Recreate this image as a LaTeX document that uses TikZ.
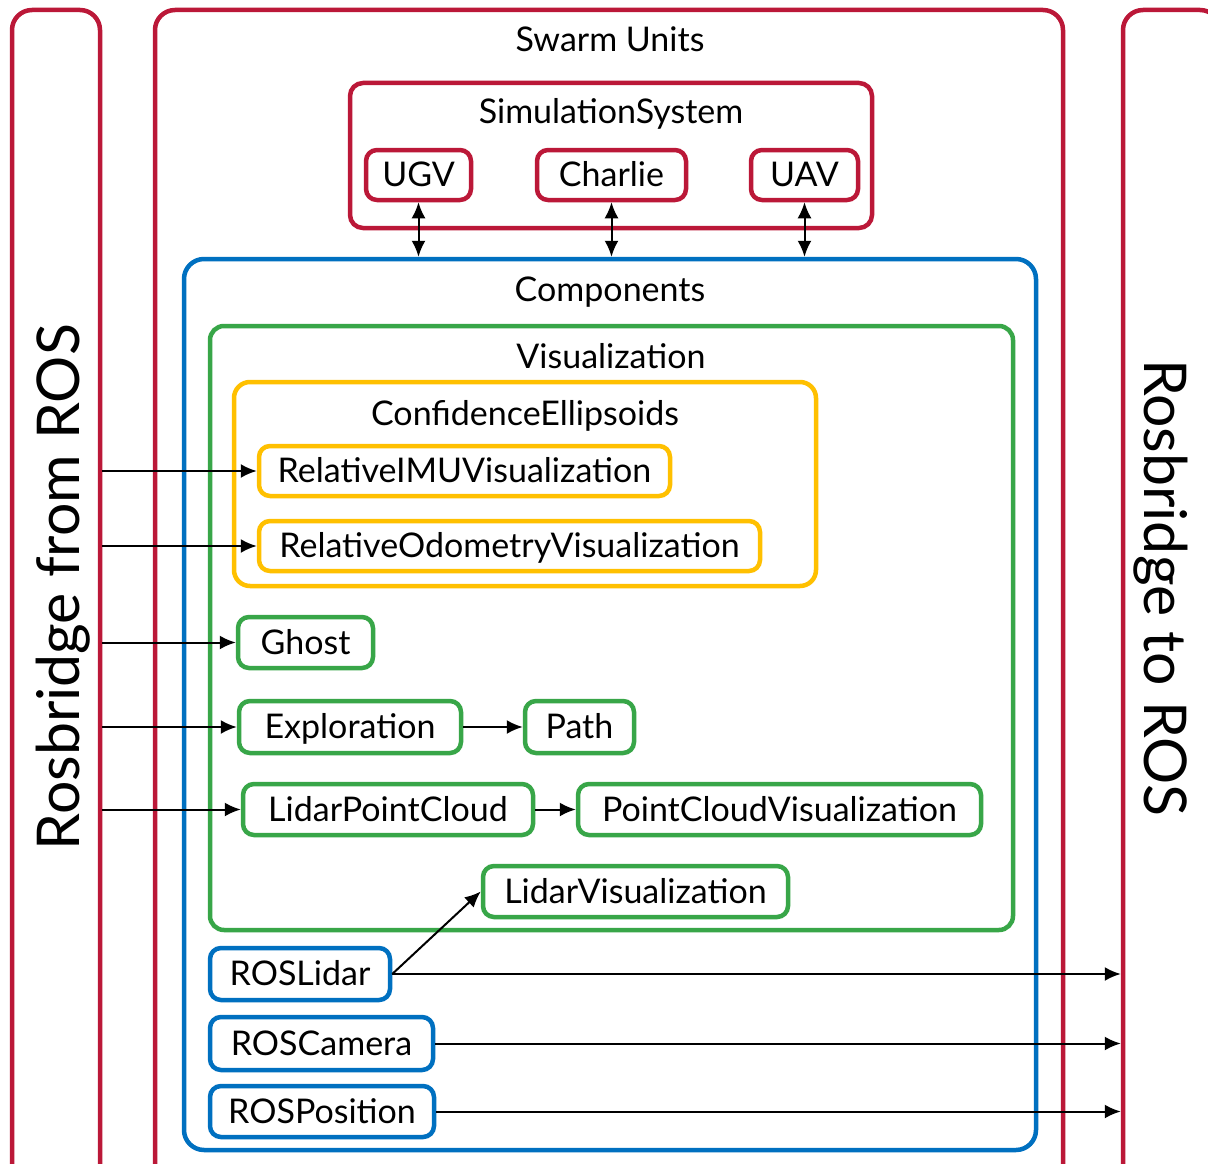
\documentclass[tikz,border=0pt]{standalone}
\usepackage{fontspec}
\setmainfont{Lato}
\usetikzlibrary{arrows.meta}
\definecolor{swred}{RGB}{187,24,56}
\definecolor{swblue}{RGB}{0,112,192}
\definecolor{swgreen}{RGB}{56,166,72}
\definecolor{swyellow}{RGB}{255,192,0}
\tikzset{
  x=1pt, y=-1pt,
  frame/.style={draw=#1, line width=4.5pt, rounded corners=20pt, inner sep=0pt},
  unit/.style={draw=#1, line width=4.5pt, rounded corners=11pt, inner sep=0pt,
    font=\fontsize{34}{38}\selectfont, text height=23pt, text depth=0pt},
  title/.style={anchor=base, font=\fontsize{34}{38}\selectfont, inner sep=0pt},
  side/.style={font=\fontsize{59}{68}\selectfont, text height=42pt, text depth=0pt, inner sep=0pt},
  flow/.style={line width=2pt, -{Latex[length=16pt,width=14pt]}},
  both/.style={line width=2pt, {Latex[length=16pt,width=14pt]}-{Latex[length=16pt,width=14pt]}},
}
\begin{document}
\begin{tikzpicture}
\clip (0,0) rectangle (1208,1164);
\fill[white] (0,0) rectangle (1208,1164);

% outer frames
\node[frame=swred, minimum width=88pt, minimum height=1175pt] (lbar) at (56,597.5) {};
\node[frame=swred, minimum width=908pt, minimum height=1175pt] (swarm) at (609,597.5) {};
\node[frame=swred, minimum width=97pt, minimum height=1175pt] (rbar) at (1171.5,597.5) {};
\node[side, rotate=90] (lfrom) at (58,587) {Rosbridge from ROS};
\node[side, rotate=-90] (rto) at (1165,588) {Rosbridge to ROS};
\node[title] (swarmt) at (610,52) {Swarm Units};

% simulation system
\node[frame=swred, rounded corners=13pt, minimum width=522pt, minimum height=145pt] (sim) at (611,155.5) {};
\node[title] (simt) at (611,124) {SimulationSystem};
\node[unit=swred, minimum width=105pt, minimum height=50pt] (ugv) at (418.5,175) {UGV};
\node[unit=swred, minimum width=149pt, minimum height=50pt] (charlie) at (611.5,175) {Charlie};
\node[unit=swred, minimum width=107pt, minimum height=50pt] (uav) at (804.5,175) {UAV};

% components
\node[frame=swblue, minimum width=852pt, minimum height=891pt] (comp) at (610,704.5) {};
\node[title] (compt) at (610,301) {Components};

% visualization
\node[frame=swgreen, rounded corners=14pt, minimum width=803pt, minimum height=604pt] (vis) at (611.5,628) {};
\node[title] (vist) at (611,368) {Visualization};

% confidence ellipsoids
\node[frame=swyellow, rounded corners=16pt, minimum width=582pt, minimum height=204pt] (conf) at (525,484) {};
\node[title] (conft) at (525,425) {ConfidenceEllipsoids};
\node[unit=swyellow, minimum width=411pt, minimum height=50pt] (imu) at (464.5,471) {RelativeIMUVisualization};
\node[unit=swyellow, minimum width=501pt, minimum height=50pt] (odo) at (509.5,546) {RelativeOdometryVisualization};

% visualization units
\node[unit=swgreen, minimum width=135pt, minimum height=51pt] (ghost) at (305.5,642.5) {Ghost};
\node[unit=swgreen, minimum width=222pt, minimum height=52pt] (expl) at (350,727) {Exploration};
\node[unit=swgreen, minimum width=109pt, minimum height=52pt] (path) at (579.5,727) {Path};
\node[unit=swgreen, minimum width=290pt, minimum height=51pt] (lpc) at (388,809.5) {LidarPointCloud};
\node[unit=swgreen, minimum width=403pt, minimum height=51pt] (pcv) at (779.5,809.5) {PointCloudVisualization};
\node[unit=swgreen, minimum width=305pt, minimum height=51pt] (lvis) at (635.5,891.5) {LidarVisualization};

% ROS units
\node[unit=swblue, minimum width=180pt, minimum height=52pt] (roslidar) at (300,974) {ROSLidar};
\node[unit=swblue, minimum width=223pt, minimum height=53pt] (roscam) at (321.5,1043.5) {ROSCamera};
\node[unit=swblue, minimum width=224pt, minimum height=51pt] (rospos) at (322,1111.5) {ROSPosition};

% simulation links
\draw[both] (ugv.south) -- (ugv.south |- comp.north);
\draw[both] (charlie.south) -- (charlie.south |- comp.north);
\draw[both] (uav.south) -- (uav.south |- comp.north);

% incoming topics
\draw[flow] (lbar.east |- imu.west) -- (imu.west);
\draw[flow] (lbar.east |- odo.west) -- (odo.west);
\draw[flow] (lbar.east |- ghost.west) -- (ghost.west);
\draw[flow] (lbar.east |- expl.west) -- (expl.west);
\draw[flow] (lbar.east |- lpc.west) -- (lpc.west);

% internal links
\draw[flow] (expl.east) -- (path.west);
\draw[flow] (lpc.east) -- (pcv.west);
\draw[flow] (roslidar.east) -- (lvis.west);

% outgoing topics
\draw[flow] (roslidar.east) -- (rbar.west |- roslidar.east);
\draw[flow] (roscam.east) -- (rbar.west |- roscam.east);
\draw[flow] (rospos.east) -- (rbar.west |- rospos.east);
\end{tikzpicture}
\end{document}
